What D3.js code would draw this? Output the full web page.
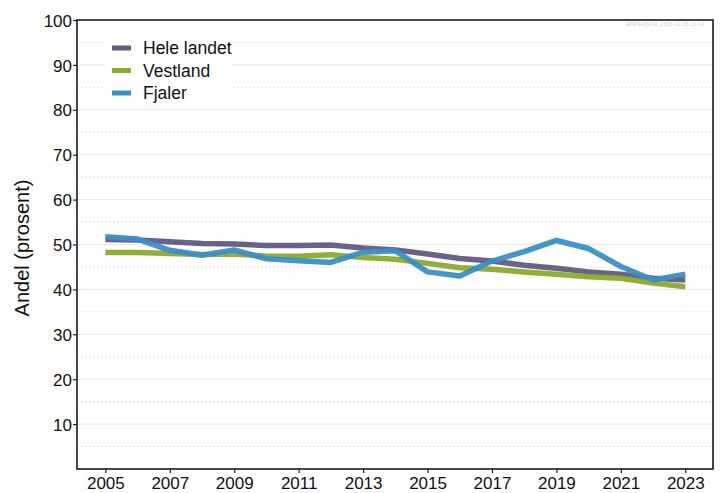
<!DOCTYPE html>
<html>
<head>
<meta charset="utf-8">
<script src="https://cdn.jsdelivr.net/npm/d3@7"></script>
<style>
  body { margin: 0; background: #fff; }
  text { font-family: "Liberation Sans", Arial, sans-serif; }
</style>
</head>
<body>
<div id="chart"></div>
<script>
// Data
const years = [2005, 2006, 2007, 2008, 2009, 2010, 2011, 2012, 2013, 2014,
               2015, 2016, 2017, 2018, 2019, 2020, 2021, 2022, 2023];
const heleLandet = [51.1, 51.0, 50.6, 50.2, 50.1, 49.8, 49.8, 49.9, 49.2, 48.8,
                    47.9, 46.9, 46.3, 45.4, 44.7, 43.9, 43.4, 42.5, 42.1];
const vestland = [48.2, 48.2, 48.0, 47.8, 47.9, 47.4, 47.4, 47.7, 47.1, 46.7,
                  45.8, 44.8, 44.5, 43.9, 43.4, 42.8, 42.5, 41.4, 40.6];
const fjaler = [51.7, 51.2, 48.7, 47.6, 48.8, 46.8, 46.4, 46.0, 48.3, 48.6,
                43.9, 43.0, 46.3, 48.4, 50.9, 49.1, 45.1, 42.1, 43.4];
const seriesNames = ["Hele landet", "Vestland", "Fjaler"];
const yTicks = [10, 20, 30, 40, 50, 60, 70, 80, 90, 100];
const xTicks = [2005, 2007, 2009, 2011, 2013, 2015, 2017, 2019, 2021, 2023];

const colors = ["#605b82", "#8aab2b", "#3a8fc6"];
const series = [heleLandet, vestland, fjaler];

const W = 722, H = 493;
const margin = { top: 20, right: 9, bottom: 24, left: 77 };
const width = W - margin.left - margin.right;
const height = H - margin.top - margin.bottom;

const svg = d3.select("#chart").append("svg")
    .attr("width", W)
    .attr("height", H);

const g = svg.append("g")
    .attr("transform", `translate(${margin.left},${margin.top})`);

const x = d3.scaleLinear()
    .domain([2004.12, 2023.86])
    .range([0, width]);

const y = d3.scaleLinear()
    .domain([0, 100])
    .range([height, 0]);

// grid lines: solid at tens, dotted at fives
const minor = d3.range(5, 100, 10);
g.append("g").selectAll("line")
    .data(minor).enter().append("line")
    .attr("x1", 0).attr("x2", width)
    .attr("y1", d => y(d)).attr("y2", d => y(d))
    .attr("stroke", "#e4e4e4")
    .attr("stroke-dasharray", "2,2");
g.append("g").selectAll("line")
    .data(yTicks.filter(d => d < 100)).enter().append("line")
    .attr("x1", 0).attr("x2", width)
    .attr("y1", d => y(d)).attr("y2", d => y(d))
    .attr("stroke", "#e6e6e6");

// lines
const line = d3.line()
    .x((d, i) => x(years[i]))
    .y(d => y(d));

series.forEach((s, i) => {
    g.append("path")
        .datum(s)
        .attr("fill", "none")
        .attr("stroke", colors[i])
        .attr("stroke-width", 5.5)
        .attr("stroke-opacity", 0.95)
        .attr("stroke-linejoin", "round")
        .attr("d", line);
});

// axes
const xAxis = g.append("g")
    .attr("transform", `translate(0,${height})`)
    .call(d3.axisBottom(x).tickValues(xTicks).tickFormat(d3.format("d")).tickSize(4).tickSizeOuter(0));
const yAxis = g.append("g")
    .call(d3.axisLeft(y).tickValues(yTicks).tickSize(4).tickSizeOuter(0));

[xAxis, yAxis].forEach(a => {
    a.select(".domain").remove();
    a.selectAll(".tick line").attr("stroke", "#222").attr("stroke-width", 1.2);
    a.selectAll(".tick text")
        .attr("fill", "#111")
        .style("font-family", "'Liberation Sans', Arial, sans-serif")
        .style("font-size", "17px");
});
xAxis.selectAll(".tick text").attr("y", 6).attr("dy", "0.8em");
yAxis.selectAll(".tick text").attr("x", -5).attr("dy", "0.36em");

// frame
g.append("rect")
    .attr("x", 0).attr("y", 0)
    .attr("width", width).attr("height", height)
    .attr("fill", "none")
    .attr("stroke", "#1a1a1a")
    .attr("stroke-width", 1.6);

// y label
svg.append("text")
    .attr("transform", "translate(29,248) rotate(-90)")
    .attr("text-anchor", "middle")
    .style("font-size", "20px")
    .attr("fill", "#111")
    .text("Andel (prosent)");

// watermark
svg.append("text")
    .attr("x", 704).attr("y", 26)
    .attr("text-anchor", "end")
    .style("font-size", "5.5px")
    .attr("fill", "#cfcfcf")
    .text("ENPERSON_2023-11-15-13-14");

// legend
const legend = g.append("g").attr("transform", "translate(28,10)");
legend.append("rect")
    .attr("x", 0).attr("y", 0)
    .attr("width", 127).attr("height", 75)
    .attr("fill", "#fff");
seriesNames.forEach((name, i) => {
    const row = legend.append("g").attr("transform", `translate(0,${18 + i * 22.5})`);
    row.append("line")
        .attr("x1", 7).attr("x2", 26)
        .attr("y1", 0).attr("y2", 0)
        .attr("stroke", colors[i])
        .attr("stroke-width", 5);
    row.append("text")
        .attr("x", 38).attr("y", 0)
        .attr("dy", "0.36em")
        .style("font-size", "17.5px")
        .attr("fill", "#111")
        .text(name);
});
</script>
</body>
</html>
